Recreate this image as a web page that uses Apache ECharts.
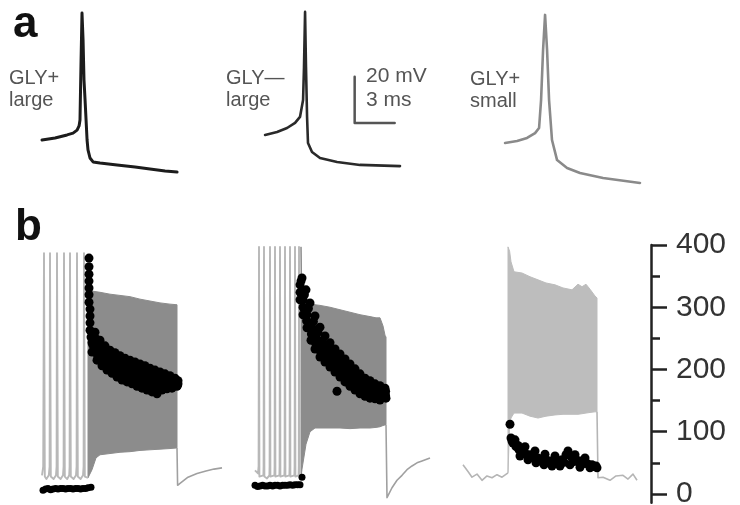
<!DOCTYPE html>
<html>
<head>
<meta charset="utf-8">
<script src="https://cdn.jsdelivr.net/npm/echarts@6/dist/echarts.min.js"></script>
<style>
html,body{margin:0;padding:0;background:#fff;}
#chart{width:740px;height:505px;}
</style>
</head>
<body>
<div id="chart"></div>
<script>
// ---------- Panel a: single action potentials (time ms, membrane potential mV) ----------
const apGlyPlusLarge = [[3.15,-58.5],[4.13,-57.6],[5.03,-56.3],[5.48,-55.5],[5.78,-54.2],[5.93,-52.4],[6.0,-49.8],[6.08,-23.8],[6.15,-3.5],[6.23,-15.2],[6.3,-32.5],[6.38,-41.2],[6.53,-58.5],[6.6,-62.8],[6.75,-66.3],[6.98,-68.0],[7.5,-68.5],[8.78,-69.3],[10.13,-70.2],[11.25,-71.1],[12.38,-71.9],[13.28,-72.4]];
const apGlyMinusLarge = [[19.88,-56.3],[20.78,-55.0],[21.53,-53.3],[22.13,-51.1],[22.5,-48.5],[22.73,-41.2],[22.8,-26.9],[22.88,-3.0],[22.95,-26.9],[23.03,-48.5],[23.1,-59.8],[23.4,-63.7],[24.0,-66.3],[25.28,-68.0],[27.0,-69.3],[30.0,-69.8]];
const apGlyPlusSmall = [[37.88,-59.8],[38.78,-58.9],[39.53,-57.6],[40.13,-55.5],[40.43,-53.3],[40.58,-41.2],[40.73,-19.5],[40.88,-4.3],[41.03,-19.5],[41.18,-41.2],[41.4,-58.5],[41.78,-67.2],[42.53,-70.6],[43.5,-72.8],[45.23,-75.0],[48.0,-77.1]];
const scaleBar = [[26.6,-31.1],[26.6,-51.1],[29.6,-51.1]]; // 20 mV, 3 ms

// ---------- Panel b: spike trains (time ms) and instantaneous frequency (Hz) ----------
const yMajorTicks = [0,100,200,300,400];
const yMinorTicks = [50,150,250,350];

// GLY+ large
const pre1 = [[210,30],[216,44],[220,387],[224,28],[232,24],[244,30],[248,44],[250,387],[254,28],[268,24],[280,30],[283,44],[285,387],[289,28],[303,24],[315,30],[318,44],[320,387],[324,28],[336,24],[346,30],[348,44],[350,387],[354,28],[368,24],[380,30],[383,44],[385,387],[389,28],[403,24],[415,30],[418,44],[420,387],[424,28],[434,26],[440,26]];
const band1 = [[440,26,328],[460,39,326],[480,58,325],[500,63,324],[550,65,321],[600,67,319],[650,68,317],[700,70,313],[750,71,310],[800,72,307],[850,73,305],[885,74,304]];
const post1 = [[885,74],[888,14],[900,17],[940,27],[985,33],[1030,37],[1070,40],[1110,42]];
const freqBase1 = [[215,6],[228,8],[240,9],[253,7],[265,8],[278,9],[290,8],[303,9],[315,9],[328,8],[340,9],[353,9],[365,8],[378,9],[390,9],[403,8],[415,9],[428,9],[440,10],[455,11]];
const freq1 = [[445,379],[445,365],[445,353],[445,342],[445,331],[445,320],[445,308],[450,297],[450,286],[450,275],[450,263],[455,252],[460,243],
  [475,260],[500,247],[525,238],[550,231],[575,227],[600,222],[625,218],[650,215],[675,212],[700,209],[725,206],[750,202],[775,199],[800,196],[825,193],[850,190],[875,186],[890,182],
  [478,250],[495,240],[520,232],[545,225],[570,219],[595,215],[620,210],[645,206],[670,203],[695,200],[720,197],[745,193],[770,190],[795,187],[820,185],[845,183],[870,181],[888,180],
  [465,239],[490,231],[515,223],[540,217],[565,210],[590,206],[615,201],[640,196],[665,193],[690,190],[715,186],[740,183],[765,180],[790,178],[815,177],[840,177],[865,175],[890,177],
  [470,232],[488,222],[512,214],[538,208],[562,202],[588,197],[612,192],[638,188],[662,185],[688,182],[712,178],[738,175],[762,172],[788,170],[812,172],[838,173],[862,173],[888,175],
  [460,228],[485,215],[510,206],[535,199],[560,194],[585,188],[610,183],[635,180],[660,177],[685,173],[710,170],[735,167],[760,164],[785,161],[810,167],[835,169],[860,170],[885,173]];

// GLY- large
const pre2 = [[1275,38],[1290,33],[1293,45],[1295,397],[1297,28],[1305,25],[1317,30],[1318,45],[1320,397],[1322,28],[1335,25],[1347,30],[1348,45],[1350,397],[1352,28],[1362,25],[1372,30],[1373,45],[1375,397],[1377,28],[1387,25],[1397,30],[1398,45],[1400,397],[1402,28],[1412,25],[1422,30],[1423,45],[1425,397],[1427,28],[1437,25],[1447,30],[1448,45],[1450,397],[1452,28],[1462,25],[1472,30],[1473,45],[1475,397],[1477,28],[1485,25],[1493,30],[1494,45],[1495,397],[1497,28],[1505,27]];
const band2 = [[1505,27,397],[1510,40,320],[1530,80,312],[1550,100,306],[1575,106,304],[1600,106,303],[1650,106,300],[1700,106,296],[1750,105,292],[1800,106,288],[1850,106,285],[1880,107,283],[1900,108,283],[1915,110,270],[1925,111,255],[1930,111,252]];
const post2 = [[1930,111],[1935,-6],[1960,10],[1985,22],[2010,30],[2035,39],[2060,45],[2085,50],[2110,53],[2150,58]];
const freqBase2 = [[1275,14],[1288,12],[1300,13],[1313,14],[1325,13],[1338,13],[1350,14],[1363,13],[1375,14],[1388,14],[1400,13],[1413,14],[1425,14],[1438,14],[1450,15],[1463,14],[1475,15],[1488,15],[1500,15],[1510,27]];
const freq2 = [[1500,336],[1515,312],[1535,288],[1560,267],[1580,251],[1600,239],[1625,230],[1650,222],[1675,214],[1700,206],[1725,198],[1750,190],[1775,182],[1800,175],[1825,170],[1850,167],[1875,164],[1900,162],[1925,161],
  [1510,347],[1530,328],[1550,307],[1575,286],[1600,268],[1625,254],[1650,243],[1675,233],[1700,225],[1725,217],[1750,209],[1775,201],[1800,193],[1825,186],[1850,182],[1875,177],[1900,174],[1925,170],
  [1505,342],[1522,320],[1542,298],[1567,277],[1590,260],[1612,246],[1637,237],[1662,228],[1687,220],[1712,212],[1737,204],[1762,196],[1787,188],[1812,181],[1837,176],[1862,172],[1887,169],[1912,166],[1928,165],
  [1500,324],[1515,300],[1533,278],[1557,257],[1578,242],[1600,230],[1625,221],[1650,213],[1675,205],[1700,197],[1725,189],[1750,182],[1775,175],[1800,168],[1825,164],[1850,161],[1875,158],[1900,157],[1928,158],
  [1500,312],[1515,288],[1535,267],[1555,247],[1575,233],[1600,220],[1625,212],[1650,204],[1675,196],[1700,188],[1725,180],[1750,173],[1775,167],[1800,161],[1825,157],[1850,154],[1875,153],[1900,151],[1930,154],[1685,165]];

// GLY+ small
const pre3 = [[2315,47],[2340,36],[2360,27],[2385,32],[2410,22],[2435,29],[2460,26],[2485,31],[2510,27],[2540,34]];
const band3 = [[2540,34,397],[2548,110,390],[2555,122,373],[2570,130,357],[2610,130,355],[2650,125,349],[2690,122,344],[2730,125,339],[2775,127,336],[2815,128,331],[2860,128,328],[2890,128,337],[2910,129,333],[2930,130,337],[2950,131,329],[2975,132,318],[2985,132,315]];
const post3 = [[2985,132],[2990,26],[3015,27],[3050,22],[3080,29],[3115,30],[3140,24],[3165,32],[3185,22]];
const freq3 = [[2550,112],[2555,90],[2565,82],[2580,76],[2595,71],[2610,67],[2630,64],[2650,63],[2670,59],[2690,58],[2710,56],[2730,55],[2750,53],[2770,51],[2790,53],[2810,55],[2830,63],[2840,69],[2860,58],[2880,55],[2900,53],[2920,50],[2940,48],[2960,47],[2980,45],
  [2600,61],[2640,55],[2680,50],[2720,47],[2760,45],[2800,45],[2850,47],[2900,43],[2950,42],[2985,42],
  [2575,87],[2625,76],[2675,69],[2725,64],[2775,61],[2875,63],[2925,58],
  [2560,85],[2590,78],[2620,70],[2660,60],[2700,53],[2740,51],[2780,49],[2820,51],[2870,52],[2910,48],[2950,45],[2970,44]];

// ---------- build chart ----------
const FONT = '"Liberation Sans", Arial, Helvetica, sans-serif';
const chart = echarts.init(document.getElementById('chart'), null, {renderer:'canvas'});

function lineA(data, color, width){
  return {type:'line', xAxisIndex:0, yAxisIndex:0, data, symbol:'none', smooth:false,
    lineStyle:{color, width, cap:'round', join:'round'}, silent:true, z:3};
}
function lineB(data, color, width){
  return {type:'line', xAxisIndex:1, yAxisIndex:1, data, symbol:'none', smooth:false,
    lineStyle:{color, width, join:'round'}, silent:true, z:2};
}
// envelope of a dense spike train: polygon between lower (d[1]) and upper (d[2]) values
function bandB(arr, color){
  return {type:'custom', xAxisIndex:1, yAxisIndex:1, data: arr, encode:{x:0, y:[1,2]}, silent:true, z:2,
    renderItem: function(params, api){
      if (params.dataIndex !== 0) return null;
      const pts = [];
      for (let i = 0; i < arr.length; i++) pts.push(api.coord([arr[i][0], arr[i][2]]));
      for (let i = arr.length - 1; i >= 0; i--) pts.push(api.coord([arr[i][0], arr[i][1]]));
      return {type:'polygon', shape:{points:pts}, style:{fill:color, stroke:color, lineWidth:1}};
    }};
}
function dotsB(data, size){
  return {type:'scatter', xAxisIndex:1, yAxisIndex:1, data, symbol:'circle', symbolSize:size,
    itemStyle:{color:'#000', opacity:1, borderWidth:0}, silent:true, z:5};
}

const labelStyle = {font:'20px ' + FONT, fill:'#555', lineHeight:22};
const scaleStyle = {font:'21px ' + FONT, fill:'#555', lineHeight:24};

const option = {
  animation:false,
  backgroundColor:'#fff',
  grid:[
    {left:0, right:0, top:5, height:180, outerBoundsMode:'none', containLabel:false},
    {left:0, right:89, top:245, bottom:2.3, outerBoundsMode:'none', containLabel:false},
    {left:0, right:89, top:245, bottom:2.3, outerBoundsMode:'none', containLabel:false}
  ],
  xAxis:[
    {gridIndex:0, type:'value', min:0, max:55.5, show:false},
    {gridIndex:1, type:'value', min:0, max:3255, show:false},
    {gridIndex:2, type:'value', min:0, max:3255, show:false}
  ],
  yAxis:[
    {gridIndex:0, type:'value', min:-78, max:0, show:false},
    {gridIndex:1, type:'value', position:'right', min:-14, max:400,
      axisLine:{show:true, onZero:false, lineStyle:{color:'#222', width:2.5}},
      axisTick:{show:true, inside:false, length:16, customValues:yMajorTicks, lineStyle:{color:'#222', width:2.5}},
      axisLabel:{show:true, customValues:yMajorTicks, margin:25, fontSize:30, color:'#333', fontFamily:FONT},
      splitLine:{show:false}},
    {gridIndex:2, type:'value', position:'right', min:-14, max:400,
      axisLine:{show:false, onZero:false},
      axisTick:{show:true, inside:false, length:9, customValues:yMinorTicks, lineStyle:{color:'#222', width:2.5}},
      axisLabel:{show:false}, splitLine:{show:false}}
  ],
  graphic:[
    {type:'text', left:13, top:3, style:{text:'a', font:'bold 44px ' + FONT, fill:'#111'}},
    {type:'text', left:15, top:206, style:{text:'b', font:'bold 44px ' + FONT, fill:'#111'}},
    {type:'text', left:9, top:67, style:Object.assign({text:'GLY+\nlarge'}, labelStyle)},
    {type:'text', left:226, top:67, style:Object.assign({text:'GLY\u2014\nlarge'}, labelStyle)},
    {type:'text', left:366, top:64, style:Object.assign({text:'20 mV\n3 ms'}, scaleStyle)},
    {type:'text', left:470, top:68, style:Object.assign({text:'GLY+\nsmall'}, labelStyle)}
  ],
  series:[
    lineA(apGlyPlusLarge, '#1c1c1c', 3),
    lineA(apGlyMinusLarge, '#2a2a2a', 2.6),
    lineA(apGlyPlusSmall, '#8a8a8a', 2.6),
    lineA(scaleBar, '#555', 2.5),
    lineB(pre1, '#b8b8b8', 1.9),
    bandB(band1, '#8c8c8c'),
    lineB(post1, '#a0a0a0', 1.6),
    lineB(pre2, '#b8b8b8', 1.9),
    bandB(band2, '#8c8c8c'),
    lineB(post2, '#a0a0a0', 1.6),
    lineB(pre3, '#b5b5b5', 1.6),
    bandB(band3, '#bdbdbd'),
    lineB(post3, '#b5b5b5', 1.6),
    dotsB(freqBase1, 7),
    dotsB(freq1, 9),
    dotsB(freqBase2, 7),
    dotsB(freq2, 9),
    dotsB(freq3, 9)
  ]
};
chart.setOption(option);
</script>
</body>
</html>
